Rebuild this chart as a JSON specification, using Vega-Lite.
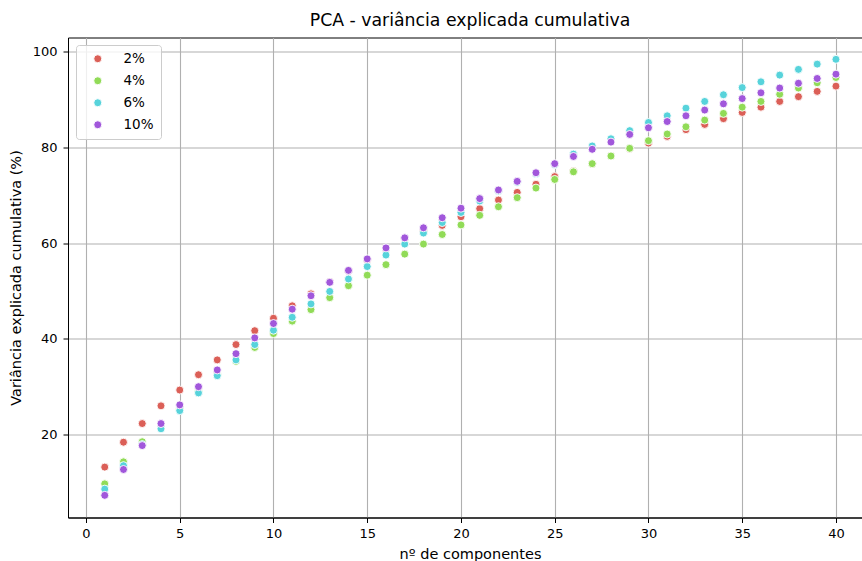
{
  "$schema": "https://vega.github.io/schema/vega-lite/v6.json",
  "autosize": {"type": "none"},
  "padding": {"left": 68, "top": 37.5, "right": 0, "bottom": 43.5},
  "width": 794,
  "height": 480,
  "background": "white",
  "title": {"text": "PCA - variância explicada cumulativa", "fontSize": 17.3, "font": "DejaVu Sans", "fontWeight": "normal", "color": "black", "offset": 8.5, "dx": 5},
  "config": {
    "font": "DejaVu Sans",
    "view": {"stroke": "black", "strokeWidth": 1}
  },
  "datasets": {
    "pca": [
      {"n":1,"g":"2%","v":13.2},{"n":2,"g":"2%","v":18.4},{"n":3,"g":"2%","v":22.3},{"n":4,"g":"2%","v":26.0},{"n":5,"g":"2%","v":29.3},{"n":6,"g":"2%","v":32.5},{"n":7,"g":"2%","v":35.6},{"n":8,"g":"2%","v":38.8},{"n":9,"g":"2%","v":41.7},{"n":10,"g":"2%","v":44.3},
      {"n":11,"g":"2%","v":46.9},{"n":12,"g":"2%","v":49.4},{"n":13,"g":"2%","v":51.9},{"n":14,"g":"2%","v":54.2},{"n":15,"g":"2%","v":56.5},{"n":16,"g":"2%","v":58.9},{"n":17,"g":"2%","v":61.0},{"n":18,"g":"2%","v":62.4},{"n":19,"g":"2%","v":63.7},{"n":20,"g":"2%","v":65.5},
      {"n":21,"g":"2%","v":67.2},{"n":22,"g":"2%","v":69.0},{"n":23,"g":"2%","v":70.6},{"n":24,"g":"2%","v":72.3},{"n":25,"g":"2%","v":73.9},{"n":26,"g":"2%","v":75.0},{"n":27,"g":"2%","v":76.6},{"n":28,"g":"2%","v":78.2},{"n":29,"g":"2%","v":79.7},{"n":30,"g":"2%","v":80.9},
      {"n":31,"g":"2%","v":82.3},{"n":32,"g":"2%","v":83.7},{"n":33,"g":"2%","v":84.8},{"n":34,"g":"2%","v":86.0},{"n":35,"g":"2%","v":87.3},{"n":36,"g":"2%","v":88.4},{"n":37,"g":"2%","v":89.6},{"n":38,"g":"2%","v":90.6},{"n":39,"g":"2%","v":91.7},{"n":40,"g":"2%","v":92.8},
      {"n":1,"g":"4%","v":9.7},{"n":2,"g":"4%","v":14.3},{"n":3,"g":"4%","v":18.5},{"n":4,"g":"4%","v":21.7},{"n":5,"g":"4%","v":25.4},{"n":6,"g":"4%","v":29.0},{"n":7,"g":"4%","v":32.6},{"n":8,"g":"4%","v":35.3},{"n":9,"g":"4%","v":38.2},{"n":10,"g":"4%","v":41.1},
      {"n":11,"g":"4%","v":43.7},{"n":12,"g":"4%","v":46.1},{"n":13,"g":"4%","v":48.6},{"n":14,"g":"4%","v":51.1},{"n":15,"g":"4%","v":53.3},{"n":16,"g":"4%","v":55.5},{"n":17,"g":"4%","v":57.7},{"n":18,"g":"4%","v":59.8},{"n":19,"g":"4%","v":61.8},{"n":20,"g":"4%","v":63.8},
      {"n":21,"g":"4%","v":65.8},{"n":22,"g":"4%","v":67.6},{"n":23,"g":"4%","v":69.5},{"n":24,"g":"4%","v":71.5},{"n":25,"g":"4%","v":73.3},{"n":26,"g":"4%","v":74.9},{"n":27,"g":"4%","v":76.6},{"n":28,"g":"4%","v":78.2},{"n":29,"g":"4%","v":79.8},{"n":30,"g":"4%","v":81.4},
      {"n":31,"g":"4%","v":82.8},{"n":32,"g":"4%","v":84.3},{"n":33,"g":"4%","v":85.7},{"n":34,"g":"4%","v":87.1},{"n":35,"g":"4%","v":88.4},{"n":36,"g":"4%","v":89.6},{"n":37,"g":"4%","v":91.1},{"n":38,"g":"4%","v":92.4},{"n":39,"g":"4%","v":93.5},{"n":40,"g":"4%","v":94.6},
      {"n":1,"g":"6%","v":8.6},{"n":2,"g":"6%","v":13.5},{"n":3,"g":"6%","v":17.9},{"n":4,"g":"6%","v":21.2},{"n":5,"g":"6%","v":25.0},{"n":6,"g":"6%","v":28.7},{"n":7,"g":"6%","v":32.3},{"n":8,"g":"6%","v":35.6},{"n":9,"g":"6%","v":38.8},{"n":10,"g":"6%","v":41.8},
      {"n":11,"g":"6%","v":44.5},{"n":12,"g":"6%","v":47.3},{"n":13,"g":"6%","v":49.9},{"n":14,"g":"6%","v":52.5},{"n":15,"g":"6%","v":55.1},{"n":16,"g":"6%","v":57.5},{"n":17,"g":"6%","v":59.8},{"n":18,"g":"6%","v":62.1},{"n":19,"g":"6%","v":64.3},{"n":20,"g":"6%","v":66.4},
      {"n":21,"g":"6%","v":68.8},{"n":22,"g":"6%","v":70.9},{"n":23,"g":"6%","v":72.7},{"n":24,"g":"6%","v":74.5},{"n":25,"g":"6%","v":76.4},{"n":26,"g":"6%","v":78.6},{"n":27,"g":"6%","v":80.3},{"n":28,"g":"6%","v":81.8},{"n":29,"g":"6%","v":83.5},{"n":30,"g":"6%","v":85.2},
      {"n":31,"g":"6%","v":86.6},{"n":32,"g":"6%","v":88.2},{"n":33,"g":"6%","v":89.6},{"n":34,"g":"6%","v":91.0},{"n":35,"g":"6%","v":92.5},{"n":36,"g":"6%","v":93.7},{"n":37,"g":"6%","v":95.1},{"n":38,"g":"6%","v":96.3},{"n":39,"g":"6%","v":97.4},{"n":40,"g":"6%","v":98.4},
      {"n":1,"g":"10%","v":7.3},{"n":2,"g":"10%","v":12.7},{"n":3,"g":"10%","v":17.7},{"n":4,"g":"10%","v":22.3},{"n":5,"g":"10%","v":26.2},{"n":6,"g":"10%","v":30.0},{"n":7,"g":"10%","v":33.5},{"n":8,"g":"10%","v":36.9},{"n":9,"g":"10%","v":40.2},{"n":10,"g":"10%","v":43.2},
      {"n":11,"g":"10%","v":46.2},{"n":12,"g":"10%","v":49.0},{"n":13,"g":"10%","v":51.8},{"n":14,"g":"10%","v":54.3},{"n":15,"g":"10%","v":56.7},{"n":16,"g":"10%","v":59.0},{"n":17,"g":"10%","v":61.1},{"n":18,"g":"10%","v":63.2},{"n":19,"g":"10%","v":65.3},{"n":20,"g":"10%","v":67.3},
      {"n":21,"g":"10%","v":69.3},{"n":22,"g":"10%","v":71.1},{"n":23,"g":"10%","v":72.9},{"n":24,"g":"10%","v":74.7},{"n":25,"g":"10%","v":76.6},{"n":26,"g":"10%","v":78.1},{"n":27,"g":"10%","v":79.6},{"n":28,"g":"10%","v":81.1},{"n":29,"g":"10%","v":82.7},{"n":30,"g":"10%","v":84.1},
      {"n":31,"g":"10%","v":85.4},{"n":32,"g":"10%","v":86.6},{"n":33,"g":"10%","v":87.8},{"n":34,"g":"10%","v":89.1},{"n":35,"g":"10%","v":90.2},{"n":36,"g":"10%","v":91.4},{"n":37,"g":"10%","v":92.4},{"n":38,"g":"10%","v":93.4},{"n":39,"g":"10%","v":94.4},{"n":40,"g":"10%","v":95.3}
    ]
  },
  "data": {"name": "pca"},
  "mark": {"type": "point", "filled": true, "shape": "circle", "size": 64, "stroke": "white", "strokeWidth": 0.9, "opacity": 1, "clip": true},
  "encoding": {
    "x": {
      "field": "n", "type": "quantitative",
      "scale": {"domain": [-0.96, 41.39], "nice": false, "zero": false},
      "axis": {
        "values": [0,5,10,15,20,25,30,35,40],
        "title": "nº de componentes",
        "titleFontSize": 14.5, "titleFontWeight": "normal", "titleColor": "black",
        "titleX": 402, "titleAlign": "center", "titlePadding": 7,
        "labelFontSize": 13, "labelColor": "black", "labelPadding": 4.5,
        "tickColor": "black", "tickSize": 5, "tickWidth": 1,
        "domainColor": "black", "domainWidth": 1,
        "grid": true, "gridColor": "#b0b0b0", "gridWidth": 1.1,
        "labelFlush": false
      }
    },
    "y": {
      "field": "v", "type": "quantitative",
      "scale": {"domain": [2.67, 102.96], "nice": false, "zero": false},
      "axis": {
        "values": [20,40,60,80,100],
        "title": "Variância explicada cumulativa (%)",
        "titleFontSize": 14.5, "titleFontWeight": "normal", "titleColor": "black",
        "titlePadding": 9,
        "labelFontSize": 13, "labelColor": "black", "labelPadding": 6,
        "tickColor": "black", "tickSize": 5, "tickWidth": 1,
        "domainColor": "black", "domainWidth": 1,
        "grid": true, "gridColor": "#b0b0b0", "gridWidth": 1.1,
        "labelFlush": false
      }
    },
    "color": {
      "field": "g", "type": "nominal",
      "scale": {"domain": ["2%","4%","6%","10%"], "range": ["#db5f57","#91db57","#57d3db","#a157db"]},
      "legend": {
        "title": null,
        "orient": "none", "legendX": 8, "legendY": 7.5,
        "padding": 7, "symbolOffset": 8,
        "symbolType": "circle", "symbolSize": 64, "symbolStrokeColor": "white", "symbolStrokeWidth": 0.9,
        "labelFontSize": 13.5, "labelColor": "black", "labelOffset": 19,
        "rowPadding": 7,
        "strokeColor": "#cccccc", "cornerRadius": 3, "fillColor": "rgba(255,255,255,0.8)"
      }
    }
  }
}
